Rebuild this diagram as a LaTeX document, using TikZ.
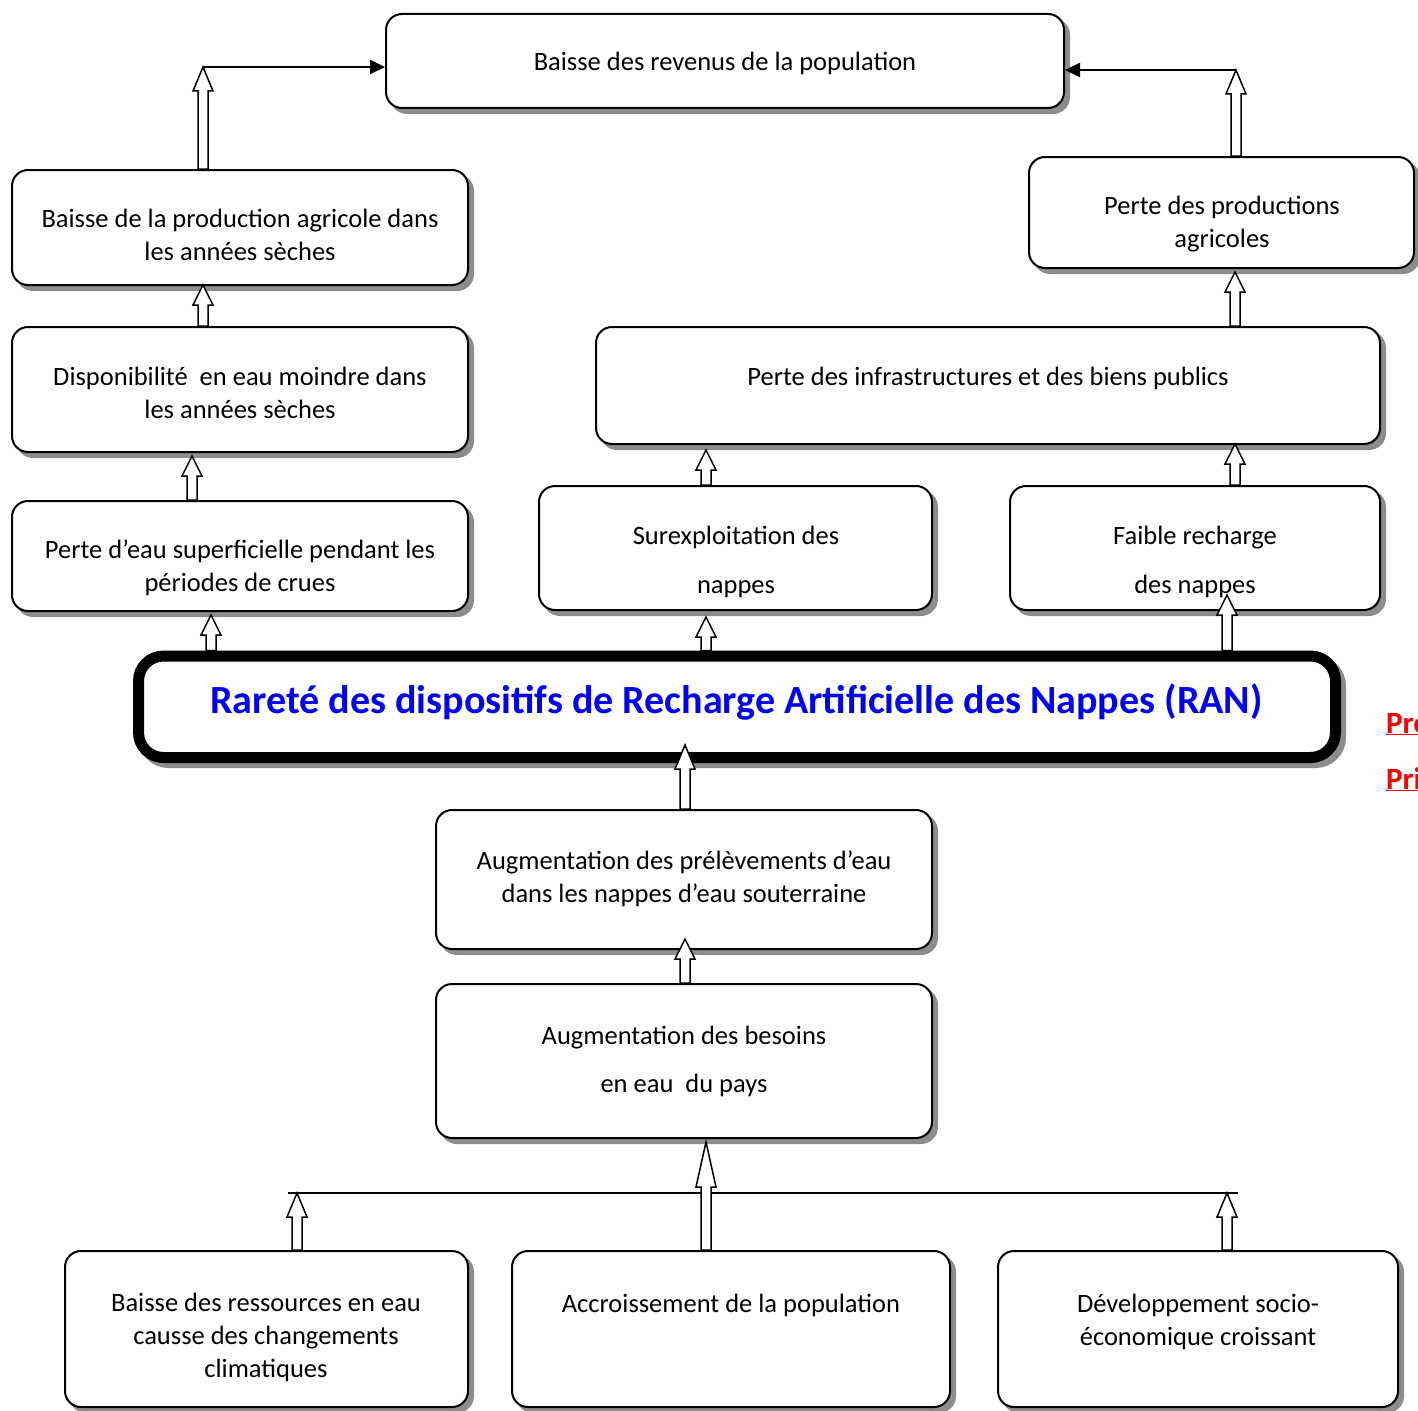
\documentclass[tikz,border=0pt]{standalone}
\usepackage{fontspec}
\setmainfont{Carlito}
\usetikzlibrary{calc,shadows,arrows.meta}
\definecolor{ranblue}{RGB}{0,0,255}
\definecolor{ranred}{RGB}{255,0,0}
\begin{document}
\begin{tikzpicture}[x=1pt,y=-1pt,
  box/.style={draw=black, line width=2pt, fill=white, rounded corners=16pt,
    drop shadow={shadow xshift=5pt, shadow yshift=-5pt, draw=black!45,
      line width=2pt, fill=black!45, opacity=1}},
  txt/.style={align=center, inner sep=0pt,
    font=\fontsize{26.5}{33}\selectfont},
  hollow/.style={draw=black, line width=1.5pt, fill=white, line join=miter,
    to path={let \p1=(\tikztostart), \p2=(\tikztotarget) in
      (\x1-5pt,\y1) -- (\x1-5pt,\y2-#1) -- (\x1-10pt,\y2-#1) -- (\x1,\y2)
      -- (\x1+10pt,\y2-#1) -- (\x1+5pt,\y2-#1) -- (\x1+5pt,\y1) -- cycle}},
  hollow/.default=24pt,
  link/.style={draw=black, line width=2pt, -{Triangle[length=15pt,width=14pt]}},
  bar/.style={draw=black, line width=2pt},
  side/.style={anchor=base west, inner sep=0pt, text=ranred,
    font=\fontsize{31}{37}\selectfont\bfseries}]
\useasboundingbox (0,0) rectangle (1418,1410);

% effects (top)
\node[box, minimum width=678pt, minimum height=94pt] (b1) at (725,61) {};
\node[txt] (t1) at (725,64) {\strut Baisse des revenus de la population};

\node[box, minimum width=456pt, minimum height=115pt] (b2) at (240,227.5) {};
\node[txt] (t2) at (240,237.5) {\strut Baisse de la production agricole dans\\\strut les années sèches};

\node[box, minimum width=456pt, minimum height=125pt] (b3) at (240,389.5) {};
\node[txt] (t3) at (240,395.5) {\strut Disponibilité\ \ en eau moindre dans\\\strut les années sèches};

\node[box, minimum width=456pt, minimum height=110pt] (b4) at (240,556) {};
\node[txt] (t4) at (240,568.5) {\strut Perte d’eau superficielle pendant les\\\strut périodes de crues};

\node[box, minimum width=385pt, minimum height=111pt] (b5) at (1221.5,212.5) {};
\node[txt] (t5) at (1222,224.5) {\strut Perte des productions\\\strut agricoles};

\node[box, minimum width=784pt, minimum height=117pt] (b6) at (988,385.5) {};
\node[txt] (t6) at (988,379) {\strut Perte des infrastructures et des biens publics};

\node[box, minimum width=393pt, minimum height=124pt] (b7) at (735.5,548) {};
\node[txt] (t7) at (736,562.5) {\strut Surexploitation des\\[16pt]\strut nappes};

\node[box, minimum width=370pt, minimum height=124pt] (b8) at (1195,548) {};
\node[txt] (t8) at (1195,562.5) {\strut Faible recharge\\[16pt]\strut des nappes};

% central problem
\node[draw=black, line width=11pt, fill=white, rounded corners=25pt,
  minimum width=1197pt, minimum height=101.5pt,
  drop shadow={shadow xshift=5pt, shadow yshift=-5pt, draw=black!45,
    line width=11pt, fill=black!45, opacity=1}] (bc) at (737,706.75) {};
\node[anchor=base, inner sep=0pt, text=ranblue,
  font=\fontsize{40}{48}\selectfont\bfseries] (tc) at (736.5,713)
  {Rareté des dispositifs de Recharge Artificielle des Nappes (RAN)};

% causes (bottom)
\node[box, minimum width=496pt, minimum height=139pt] (b10) at (684,879.5) {};
\node[txt] (t10) at (684,879) {\strut Augmentation des prélèvements d’eau\\\strut dans les nappes d’eau souterraine};

\node[box, minimum width=496pt, minimum height=154pt] (b11) at (684,1061) {};
\node[txt] (t11) at (684,1062) {\strut Augmentation des besoins\\[15pt]\strut en eau\ \ du pays};

\node[box, minimum width=403pt, minimum height=156pt] (b12) at (266.5,1329) {};
\node[txt] (t12) at (266,1338) {\strut Baisse des ressources en eau\\\strut causse des changements\\\strut climatiques};

\node[box, minimum width=438pt, minimum height=156pt] (b13) at (731,1329) {};
\node[txt] (t13) at (731,1306) {\strut Accroissement de la population};

\node[box, minimum width=400pt, minimum height=156pt] (b14) at (1198,1329) {};
\node[txt] (t14) at (1198,1322) {\strut Développement socio-\\\strut économique croissant};

% side labels at the page edge
\node[side] (pro) at (1386,733) {\underline{Pro}};
\node[side] (pri) at (1386,789) {\underline{Pri}};

% junction points
\coordinate (tl) at (203,67);
\coordinate (tr) at (1236,70);
\coordinate (jl) at (297,1193);
\coordinate (jr) at (1227,1193);
\coordinate (hl) at (288,1193);
\coordinate (hr) at (1238,1193);

% connectors to the top box
\draw[link] (tl) -- (tl -| b1.west);
\draw[link] (tr) -- (tr -| b1.east);
\draw[bar] (hl) -- (hr);

% block arrows
\draw[hollow] (b2.north -| tl) to (tl);
\draw[hollow] (b5.north -| tr) to (tr);
\draw[hollow=20pt] ([xshift=-37pt]b3.north) to ([yshift=1pt]b2.south);
\draw[hollow=20pt] ([xshift=-48pt]b4.north) to ([yshift=-3pt]b3.south);
\draw[hollow=20pt] ([xshift=-526pt]bc.north) to ([yshift=-3pt]b4.south);
\draw[hollow=20pt] ([xshift=-31pt]bc.north) to ([yshift=-6pt]b7.south);
\draw[hollow=20pt] ([xshift=490pt]bc.north) to ([yshift=16pt]b8.south);
\draw[hollow=20pt] ([xshift=-29.5pt]b7.north) to ([yshift=-5pt]b6.south);
\draw[hollow=20pt] ([xshift=40pt]b8.north) to ([yshift=1pt]b6.south);
\draw[hollow=20pt] ([xshift=247pt]b6.north) to ([yshift=-3pt]b5.south);
\draw[hollow] ([xshift=1pt]b10.north) to ([yshift=18pt]bc.south);
\draw[hollow=20pt] ([xshift=1pt]b11.north) to ([yshift=11pt]b10.south);
\draw[hollow=45pt] ([xshift=-25pt]b13.north) to ([yshift=-3pt]b11.south);
\draw[hollow=24pt] (b12.north -| jl) to (jl);
\draw[hollow=24pt] (b14.north -| jr) to (jr);
\end{tikzpicture}
\end{document}
